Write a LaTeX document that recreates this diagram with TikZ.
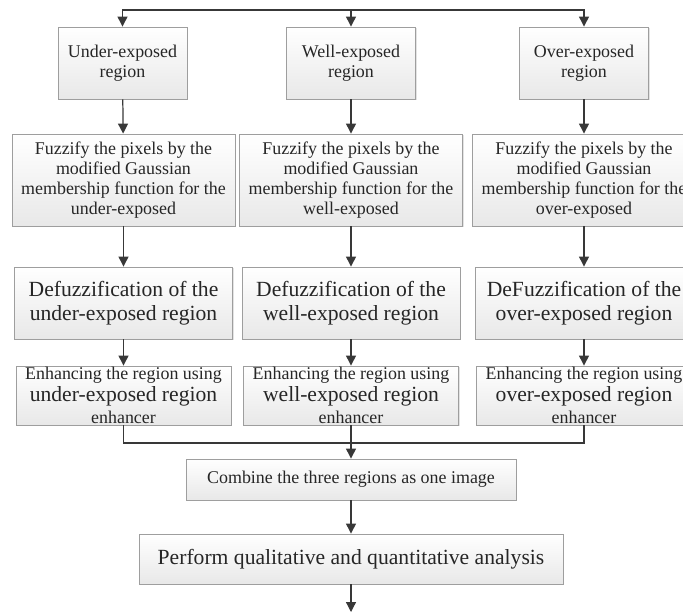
\documentclass[tikz,border=0pt]{standalone}
\usepackage{fontspec}
\setmainfont{Liberation Serif}
\usetikzlibrary{arrows.meta, positioning, shadows}
\newcommand{\smallText}{\fontsize{10.2}{11.4}\selectfont}
\newcommand{\bigText}{\fontsize{12.3}{13.7}\selectfont}
\newcommand{\enhText}{\fontsize{10.2}{12.5}\selectfont}
\definecolor{boxLine}{gray}{0.62}
\definecolor{arrowLine}{gray}{0.22}
\tikzset{
    procBox/.style={rectangle, draw=boxLine, line width=0.5pt, top color=white, bottom color=black!9, inner sep=0pt, align=center, text=black!85,
        drop shadow={shadow xshift=0.6pt, shadow yshift=-0.8pt, opacity=0.22}},
    regionBox/.style={procBox, font=\smallText, minimum width=2.58cm, minimum height=1.44cm},
    fuzzBox/.style={procBox, font=\smallText, minimum width=4.46cm, minimum height=1.84cm},
    defuzzBox/.style={procBox, font=\bigText, minimum width=4.36cm, minimum height=1.44cm},
    enhBox/.style={procBox, font=\enhText, minimum width=4.30cm, minimum height=1.18cm},
    flowArrow/.style={-{Triangle[length=2mm, width=2mm]}, draw=arrowLine, line width=0.7pt},
    flowLine/.style={draw=arrowLine, line width=0.7pt}
}

\begin{document}
\begin{tikzpicture}
        \useasboundingbox (0,0) rectangle (13.66,12.26);
        \clip (0,0) rectangle (13.66,12.26);

        % Coordinates
        \coordinate (split) at (7.02,12.06);
        \coordinate (merge) at (7.02,3.40);
        \coordinate (out) at (7.02,0.02);

        % 1. Region boxes
        \node[regionBox] (underReg) at (2.45,11.00) {Under-exposed\\region};
        \node[regionBox] (wellReg)  at (7.02,11.00) {Well-exposed\\region};
        \node[regionBox] (overReg)  at (11.68,11.00) {Over-exposed\\region};

        % 2. Fuzzification boxes
        \node[fuzzBox] (underFuzz) at (2.47,8.66) {Fuzzify the pixels by the\\modified Gaussian\\membership function for the\\under-exposed};
        \node[fuzzBox] (wellFuzz)  at (7.02,8.66) {Fuzzify the pixels by the\\modified Gaussian\\membership function for the\\well-exposed};
        \node[fuzzBox] (overFuzz)  at (11.68,8.66) {Fuzzify the pixels by the\\modified Gaussian\\membership function for the\\over-exposed};

        % 3. Defuzzification boxes
        \node[defuzzBox] (underDefuzz) at (2.47,6.20) {Defuzzification of the\\under-exposed region};
        \node[defuzzBox] (wellDefuzz)  at (7.02,6.20) {Defuzzification of the\\well-exposed region};
        \node[defuzzBox] (overDefuzz)  at (11.68,6.20) {DeFuzzification of the\\over-exposed region};

        % 4. Enhancer boxes
        \node[enhBox] (underEnh) at (2.47,4.35) {Enhancing the region using\\{\fontsize{12.3}{12.5}\selectfont under-exposed region}\\enhancer};
        \node[enhBox] (wellEnh)  at (7.02,4.35) {Enhancing the region using\\{\fontsize{12.3}{12.5}\selectfont well-exposed region}\\enhancer};
        \node[enhBox] (overEnh)  at (11.68,4.35) {Enhancing the region using\\{\fontsize{12.3}{12.5}\selectfont over-exposed region}\\enhancer};

        % 5. Combination and analysis
        \node[procBox, font=\smallText, minimum width=6.60cm, minimum height=0.82cm] (combine) at (7.02,2.67) {Combine the three regions as one image};
        \node[procBox, font=\bigText, minimum width=8.48cm, minimum height=1.00cm] (analysis) at (7.02,1.08) {Perform qualitative and quantitative analysis};

        % 6. Connectors
        \draw[flowArrow] (split) -| (underReg);
        \draw[flowArrow] (split) -- (wellReg);
        \draw[flowArrow] (split) -| (overReg);
        \foreach \col in {under,well,over} {
            \draw[flowArrow] (\col Reg) -- (\col Fuzz);
            \draw[flowArrow] (\col Fuzz) -- (\col Defuzz);
            \draw[flowArrow] (\col Defuzz) -- (\col Enh);
        }
        \draw[flowLine] (underEnh) |- (merge);
        \draw[flowLine] (overEnh) |- (merge);
        \draw[flowArrow] (wellEnh) -- (combine);
        \draw[flowArrow] (combine) -- (analysis);
        \draw[flowArrow] (analysis) -- (out);

\end{tikzpicture}
\end{document}
